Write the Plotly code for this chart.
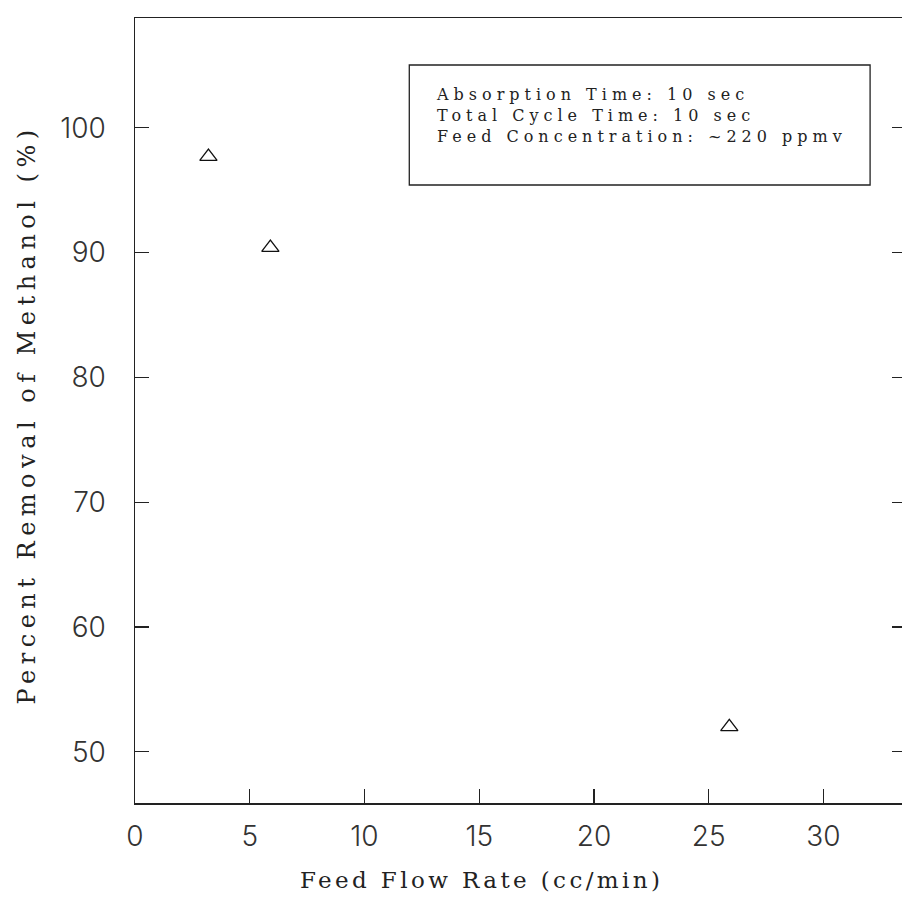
import plotly.graph_objects as go

flow_rate = [3.2, 5.9, 25.9]
removal = [97.7, 90.4, 52.0]

x_ticks = [0, 5, 10, 15, 20, 25, 30]
y_ticks = [50, 60, 70, 80, 90, 100]

x_title = "Feed Flow Rate (cc/min)"
y_title = "Percent Removal of Methanol (%)"
box_lines = ["Absorption Time: 10 sec", "Total Cycle Time: 10 sec", "Feed Concentration: ~220 ppmv"]

# figure is slightly wider than the 902px window so that the right frame edge is cut off, as in the scan
W, H = 908, 917
L, R, T, B = 135, 0, 18, 114
pw, ph = W - L - R, H - T - B

def px(xp):
    return (xp - L) / pw

def py(yp):
    return 1 - (yp - T) / ph

fig = go.Figure()
fig.add_trace(go.Scatter(
    x=flow_rate, y=removal, mode="markers",
    marker=dict(symbol="triangle-up-open", size=15, color="#111", line=dict(width=1.3, color="#111")),
    showlegend=False, hoverinfo="skip",
))

tick_font = dict(family="Inter", size=28, color="#333", weight=300)
fig.update_layout(
    width=W, height=H,
    margin=dict(l=L, r=R, t=T, b=B, pad=0),
    paper_bgcolor="white", plot_bgcolor="white",
    xaxis=dict(range=[0, 33.6], tickvals=x_ticks, ticks="inside", ticklen=14, tickwidth=1.3,
               tickcolor="#222", showline=True, linecolor="#222", linewidth=1.5, mirror=True,
               showgrid=False, zeroline=False, tickfont=tick_font, ticklabelstandoff=8),
    yaxis=dict(range=[45.9, 108.8], tickvals=y_ticks, ticks="inside", ticklen=14, tickwidth=1.3,
               tickcolor="#222", showline=True, linecolor="#222", linewidth=1.5, mirror="ticks",
               showgrid=False, zeroline=False, tickfont=tick_font, ticklabelstandoff=22),
)

serif = "DejaVu Serif"
fig.add_annotation(text=x_title, xref="paper", yref="paper", x=px(482), y=py(880),
                   xanchor="center", yanchor="middle", showarrow=False,
                   font=dict(family=serif, size=23, color="#222"))
fig.add_annotation(text=y_title, xref="paper", yref="paper", x=px(27), y=py(414),
                   xanchor="center", yanchor="middle", showarrow=False, textangle=-90,
                   font=dict(family=serif, size=24, color="#222"))
fig.add_shape(type="rect", xref="paper", yref="paper", x0=px(410), x1=px(872), y0=py(185), y1=py(65),
              line=dict(color="#222", width=1.3), fillcolor="rgba(0,0,0,0)")
fig.add_annotation(text="<br>".join(box_lines), xref="paper", yref="paper", x=px(435), y=py(115.5),
                   xanchor="left", yanchor="middle", align="left", showarrow=False,
                   font=dict(family=serif, size=16, color="#222"))

post = """
document.body.style.margin='0';
document.body.style.overflow='hidden';
var sp = {0: '3.4px', 1: '5.5px', 2: '5px'};
document.querySelectorAll('g.annotation').forEach(function(g){
  var i = g.getAttribute('data-index');
  if (sp[i]) { g.querySelectorAll('text').forEach(function(t){ t.style.letterSpacing = sp[i]; }); }
});
"""

fig.write_html("out.html", post_script=post, config={"displayModeBar": False, "staticPlot": True})
